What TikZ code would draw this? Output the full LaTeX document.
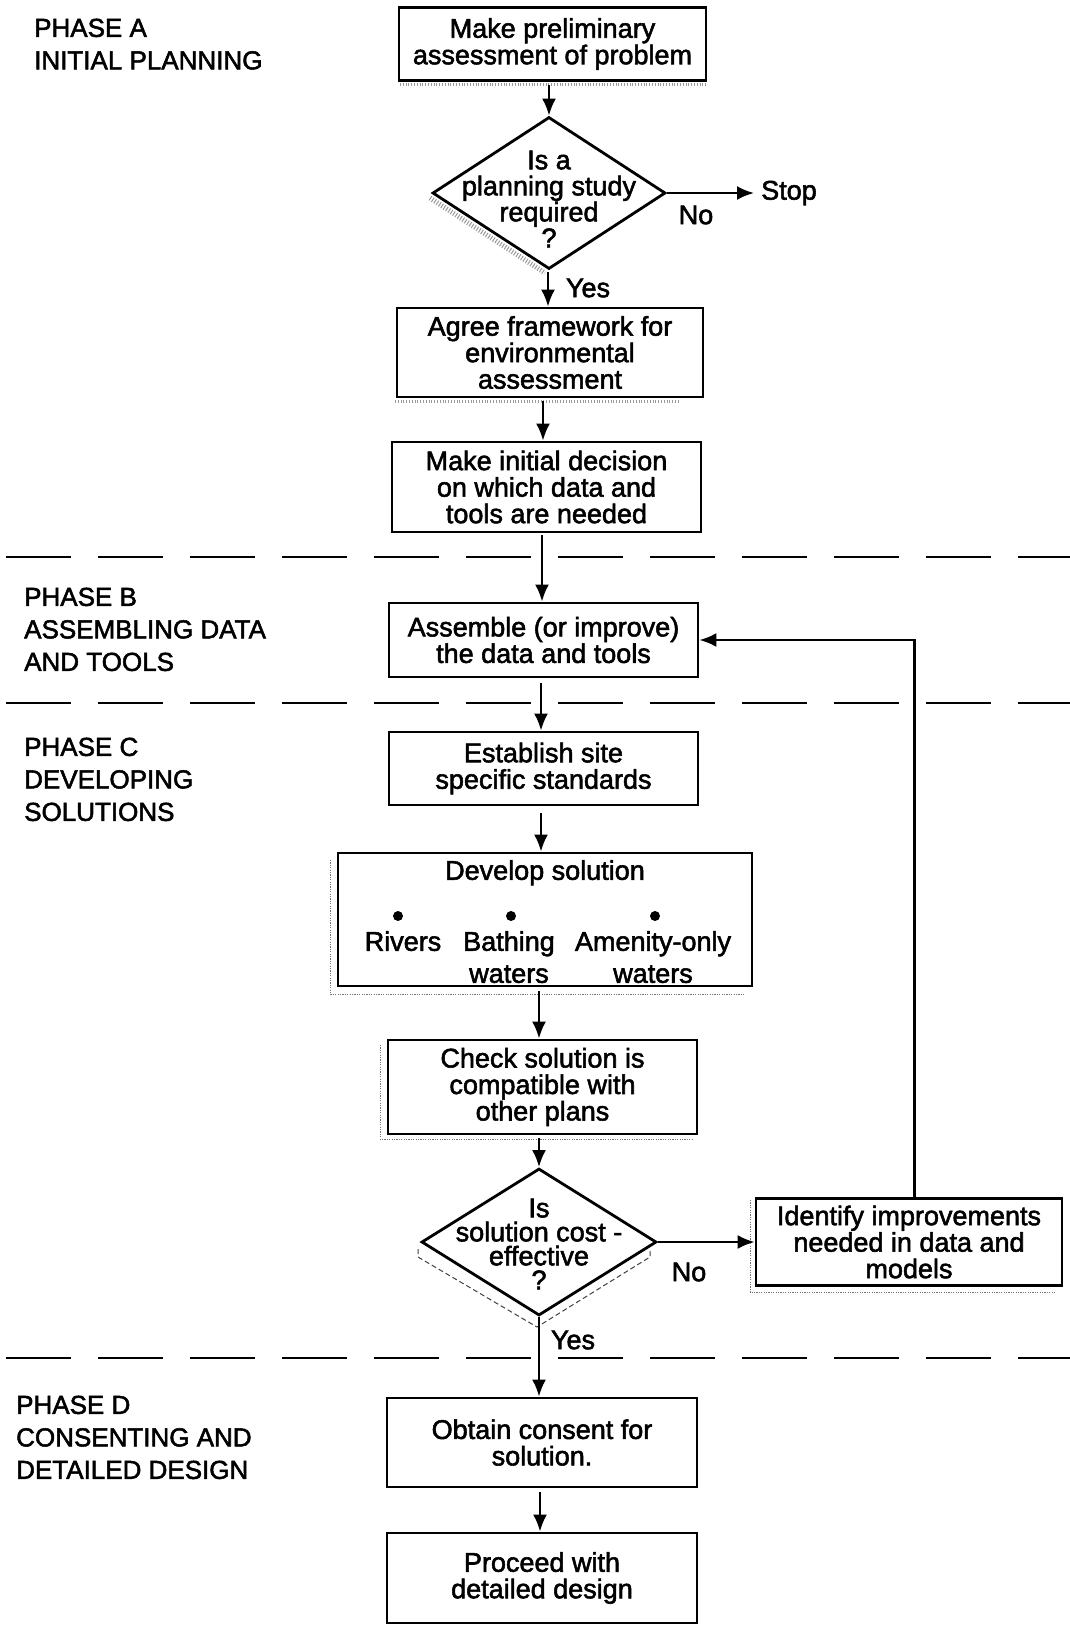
\documentclass[tikz,border=0pt]{standalone}
\usepackage{fontspec}
\setmainfont{Liberation Sans}[RawFeature={embolden=2}]
\usetikzlibrary{shapes.geometric,arrows.meta}

\tikzset{
  flowbox/.style={draw, line width=2.8pt, inner sep=0pt, align=center,
    font=\fontsize{27}{26.5}\selectfont},
  decision/.style={diamond, draw, line width=2.8pt, inner sep=0pt},
  decisiontext/.style={align=center, inner sep=0pt},
  flow/.style={line width=2.4pt, -{Latex[length=17pt,width=14pt]}},
  feedback/.style={line width=2.4pt, -{Latex[length=17pt,width=14pt]}},
  phaseline/.style={line width=2.8pt, dash pattern=on 65pt off 27pt},
  phaselabel/.style={anchor=north west, inner sep=0pt, align=left,
    font=\fontsize{26}{32.5}\selectfont},
  answer/.style={inner sep=0pt, font=\fontsize{27}{27}\selectfont},
  itemtext/.style={anchor=north, inner sep=0pt, align=center,
    font=\fontsize{27}{32}\selectfont},
  bulletdot/.style={circle, fill, inner sep=0pt, minimum size=10pt},
  boxshadow/.style={line width=1pt, black!55, dash pattern=on 1.2pt off 1.2pt},
  diashadow/.style={line width=1pt, black!75, dash pattern=on 5pt off 3pt},
  grain/.style={line width=5pt, black!40, dash pattern=on 1pt off 1.8pt},
}

\begin{document}
\begin{tikzpicture}[x=1pt,y=-1pt]
\useasboundingbox (0,0) rectangle (1070,1626);

% phase separators
\draw[phaseline] (6,557) -- (1070,557);
\draw[phaseline] (6,703) -- (1070,703);
\draw[phaseline] (6,1358) -- (1070,1358);

% phase headings
\node[phaselabel] (pa) at (34,18.5) {PHASE A\\INITIAL PLANNING};
\node[phaselabel] (pb) at (24,587.5) {PHASE B\\ASSEMBLING DATA\\AND TOOLS};
\node[phaselabel] (pc) at (24,737.5) {PHASE C\\DEVELOPING\\SOLUTIONS};
\node[phaselabel] (pd) at (16,1395.5) {PHASE D\\CONSENTING AND\\DETAILED DESIGN};

% shadows and scan grain behind the shapes
\draw[grain] (430,198) -- (545,273);
\draw[grain, line width=3pt] (400,84) -- (706,84);
\draw[grain, line width=3pt] (395,401) -- (680,401);
\draw[boxshadow] (330,860) -- (330,994) -- (745,994);
\draw[boxshadow] (380,1045) -- (380,1139) -- (692,1139);
\draw[boxshadow] (750,1200) -- (750,1292) -- (1055,1292);
\draw[diashadow] (418,1249) -- (418,1257) -- (537,1327) -- (650,1257) -- (650,1250);

% Phase A
\node[flowbox, minimum width=307pt, minimum height=73pt] (b1) at (552.5,44)
  {Make preliminary\\assessment of problem};
\node[decision, minimum width=233pt, minimum height=152pt] (d1) at (549,193) {};
\node[decisiontext, font=\fontsize{27}{26}\selectfont] (d1t) at (549,199)
  {Is a\\planning study\\required\\?};
\node[answer, anchor=west, inner xsep=7pt] (stop) at (754,193) {Stop};
\node[answer] (no1) at (696,215) {No};
\node[answer] (yes1) at (588,288) {Yes};
\node[flowbox, minimum width=306pt, minimum height=89pt] (b2) at (550,352.5)
  {Agree framework for\\environmental\\assessment};
\node[flowbox, minimum width=309pt, minimum height=90pt] (b3) at (546.5,487)
  {Make initial decision\\on which data and\\tools are needed};

% Phase B
\node[flowbox, minimum width=309pt, minimum height=74pt] (b4) at (543.5,640)
  {Assemble (or improve)\\the data and tools};

% Phase C
\node[flowbox, minimum width=309pt, minimum height=73pt] (b5) at (543.5,768.5)
  {Establish site\\specific standards};
\node[flowbox, minimum width=414pt, minimum height=133pt] (b6) at (545,919.5) {};
\node[itemtext] (b6t) at (545,860) {Develop solution};
\node[bulletdot] (k1) at (398,916) {};
\node[bulletdot] (k2) at (511,916) {};
\node[bulletdot] (k3) at (655,916) {};
\node[itemtext] (i1) at (403,931) {Rivers};
\node[itemtext] (i2) at (509,931) {Bathing\\waters};
\node[itemtext] (i3) at (653,931) {Amenity-only\\waters};
\node[flowbox, minimum width=309pt, minimum height=94pt] (b7) at (542.5,1087)
  {Check solution is\\compatible with\\other plans};
\node[decision, minimum width=235pt, minimum height=147pt] (d2) at (539,1242) {};
\node[decisiontext, font=\fontsize{27}{24}\selectfont] (d2t) at (539,1244)
  {Is\\solution cost -\\effective\\?};
\node[flowbox, minimum width=306pt, minimum height=87pt] (b8) at (909,1242)
  {Identify improvements\\needed in data and\\models};
\node[answer] (no2) at (689,1272) {No};
\node[answer] (yes2) at (573,1340) {Yes};

% Phase D
\node[flowbox, minimum width=310pt, minimum height=89pt] (b9) at (542,1442.5)
  {Obtain consent for\\solution.};
\node[flowbox, minimum width=310pt, minimum height=90pt] (b10) at (542,1578)
  {Proceed with\\detailed design};

% connectors
\draw[flow, shorten <=3pt] (b1.south -| d1.north) -- (d1.north);
\draw[flow] (d1.east) -- (d1.east -| stop.west);
\draw[flow, shorten <=2pt] (d1.south -| 548,0) -- (b2.north -| 548,0);
\draw[flow, shorten <=3pt] (b2.south -| 543,0) -- (b3.north -| 543,0);
\draw[flow, shorten <=2pt] (b3.south -| 542,0) -- (b4.north -| 542,0);
\draw[flow, shorten <=5pt] (b4.south -| 541,0) -- (b5.north -| 541,0);
\draw[flow, shorten <=7pt] (b5.south -| 541,0) -- (b6.north -| 541,0);
\draw[flow, shorten <=4pt] (b6.south -| 539,0) -- (b7.north -| 539,0);
\draw[flow, shorten <=3pt] (b7.south -| 539,0) -- (d2.north);
\draw[flow] (d2.east) -- (b8.west);
\draw[flow] (d2.south) -- (b9.north -| d2.south);
\draw[flow, shorten <=4pt] (b9.south -| 540,0) -- (b10.north -| 540,0);
\draw[feedback] ([xshift=5.5pt]b8.north) |- (b4.east);

\end{tikzpicture}
\end{document}
